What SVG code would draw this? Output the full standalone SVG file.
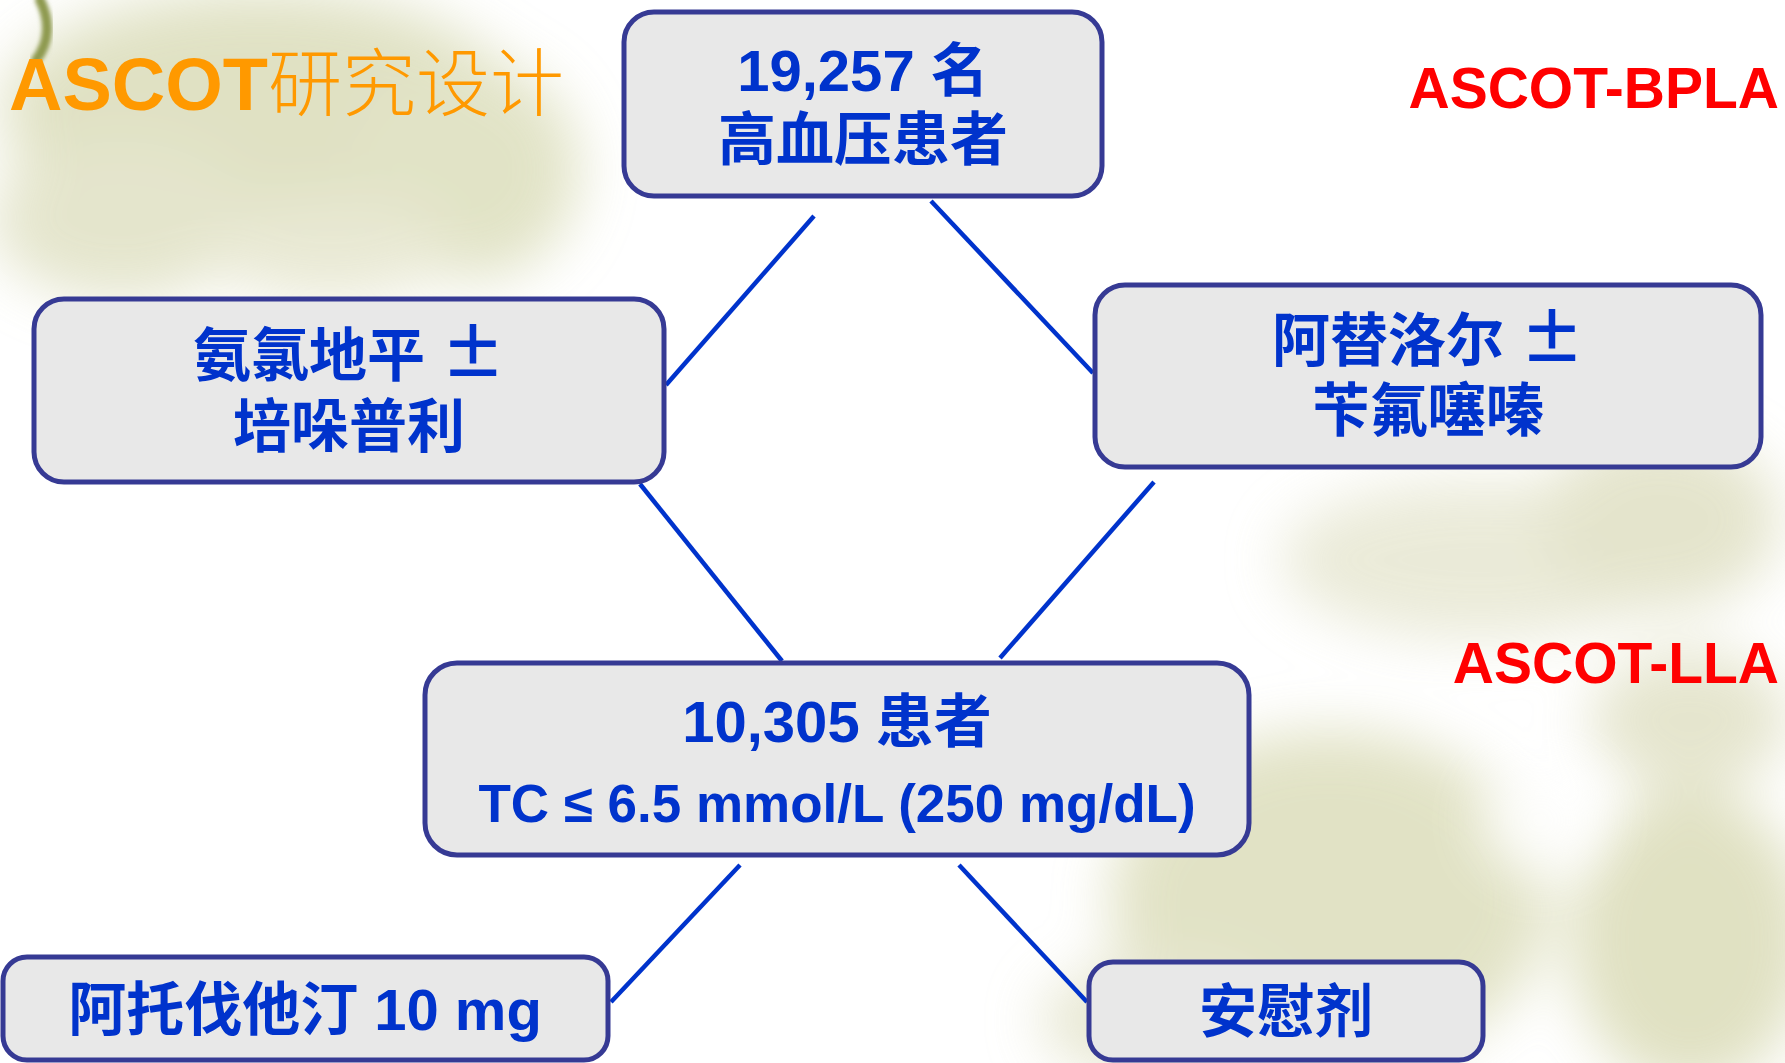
<svg xmlns="http://www.w3.org/2000/svg" width="1785" height="1063" viewBox="0 0 1785 1063">
<style>
.box{fill:#E8E8E8;stroke:#363A94;stroke-width:5}
.t{font-family:"Liberation Sans","Noto Sans CJK SC",sans-serif;font-weight:bold;fill:#0033CC;text-anchor:middle}
.pm{font-family:"Noto Sans CJK SC",sans-serif;font-weight:bold;font-size:64px}
.conn line{stroke:#0033CC;stroke-width:4.5;stroke-linecap:butt}
.red{font-family:"Liberation Sans",sans-serif;font-weight:bold;fill:#FF0000;font-size:57px;text-anchor:end}
</style>
<defs>
<filter id="blur" x="-50%" y="-50%" width="200%" height="200%"><feGaussianBlur stdDeviation="28"/></filter>
<filter id="blur2" x="-50%" y="-50%" width="200%" height="200%"><feGaussianBlur stdDeviation="2"/></filter>
</defs>
<rect width="1785" height="1063" fill="#FFFFFF"/>
<g id="background" filter="url(#blur)" opacity="0.75">
<ellipse cx="260" cy="110" rx="260" ry="120" fill="#D6D8B0"/>
<ellipse cx="470" cy="170" rx="110" ry="110" fill="#D8DAB4"/>
<ellipse cx="120" cy="220" rx="130" ry="80" fill="#DCDDBC"/>
<ellipse cx="330" cy="250" rx="120" ry="50" fill="#E2E2C6"/>
<ellipse cx="1480" cy="560" rx="200" ry="80" fill="#E4E4CC"/>
<ellipse cx="1660" cy="520" rx="120" ry="90" fill="#DCDCBC"/>
<ellipse cx="1330" cy="900" rx="220" ry="170" fill="#D8D9B2"/>
<ellipse cx="1690" cy="940" rx="120" ry="150" fill="#D6D7AE"/>
<ellipse cx="1690" cy="720" rx="100" ry="70" fill="#DDDDBE"/>
<ellipse cx="1160" cy="1020" rx="120" ry="60" fill="#E0E0C4"/>
</g>
<ellipse cx="1540" cy="820" rx="60" ry="55" fill="#FFFFFF" filter="url(#blur)" opacity="0.8"/>
<path d="M40,0 C50,20 50,42 36,60" fill="none" stroke="#8E9A50" stroke-width="10" stroke-linecap="round" filter="url(#blur2)"/>
<g id="title">
<text x="9" y="110" font-size="74" fill="#FF9900"><tspan font-family="Liberation Sans,sans-serif" font-weight="bold">ASCOT</tspan><tspan font-family="Noto Sans CJK SC,sans-serif" font-weight="300">研究设计</tspan></text>
</g>
<g id="label-bpla"><text class="red" x="1779" y="108">ASCOT-BPLA</text></g>
<g id="label-lla"><text class="red" x="1779" y="683">ASCOT-LLA</text></g>
<g id="connectors" class="conn">
<line x1="814" y1="216" x2="666" y2="385"/>
<line x1="931" y1="201" x2="1093" y2="373"/>
<line x1="640" y1="484" x2="782" y2="661"/>
<line x1="1154" y1="482" x2="1000" y2="658"/>
<line x1="740" y1="865" x2="611" y2="1002"/>
<line x1="959" y1="865" x2="1087" y2="1002"/>
</g>
<g id="node-patients">
<rect class="box" x="624" y="12" width="478" height="184" rx="30"/>
<text class="t" x="863" y="91" font-size="58">19,257 名</text>
<text class="t" x="863" y="160" font-size="58">高血压患者</text>
</g>
<g id="node-amlodipine">
<rect class="box" x="34" y="299" width="630" height="183" rx="30"/>
<text class="t" x="349" y="376" font-size="58">氨氯地平 <tspan class="pm">±</tspan></text>
<text class="t" x="349" y="447" font-size="58">培哚普利</text>
</g>
<g id="node-atenolol">
<rect class="box" x="1095" y="285" width="666" height="182" rx="30"/>
<text class="t" x="1428" y="361" font-size="58">阿替洛尔 <tspan class="pm">±</tspan></text>
<text class="t" x="1428" y="431" font-size="58">苄氟噻嗪</text>
</g>
<g id="node-lla">
<rect class="box" x="425" y="663" width="824" height="192" rx="32"/>
<text class="t" x="837" y="742" font-size="58">10,305 患者</text>
<text class="t" x="837" y="822" font-size="53">TC ≤ 6.5 mmol/L (250 mg/dL)</text>
</g>
<g id="node-atorvastatin">
<rect class="box" x="3" y="957" width="605" height="103" rx="24"/>
<text class="t" x="305" y="1030" font-size="58">阿托伐他汀 10 mg</text>
</g>
<g id="node-placebo">
<rect class="box" x="1089" y="962" width="394" height="98" rx="24"/>
<text class="t" x="1286" y="1032" font-size="58">安慰剂</text>
</g>
</svg>
